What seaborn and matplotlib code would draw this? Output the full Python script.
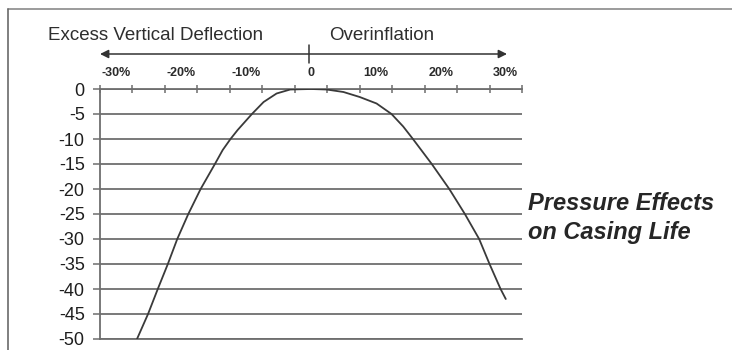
import matplotlib
matplotlib.use("Agg")
import matplotlib.pyplot as plt
from matplotlib.lines import Line2D
from matplotlib.patches import FancyArrowPatch
from matplotlib.ticker import FixedLocator
import seaborn as sns
import pandas as pd

# Casing life change (%) against inflation deviation (%)
deflection_pct = [-26.8, -25.1, -23.6, -22.05, -20.6, -18.9, -17.0, -14.8,
                  -13.6, -12.4, -11.3, -9.1, -7.3, -5.3, -3.2, 0.0,
                  2.4, 5.0, 7.5, 10.1, 12.4, 14.2, 15.7, 18.6,
                  21.3, 23.7, 25.9, 27.5, 29.2, 30.0]
casing_life = [-50, -45, -40, -35, -30, -25, -20, -15,
               -12.2, -10, -8.2, -5.0, -2.6, -0.9, -0.1, 0.0,
               -0.1, -0.6, -1.6, -2.9, -5.0, -7.5, -10, -15,
               -20, -25, -30, -35, -40, -42.0]

x_tick_values = [-30, -20, -10, 0, 10, 20, 30]
x_tick_labels = ["-30%", "-20%", "-10%", "0", "10%", "20%", "30%"]
y_tick_values = [0, -5, -10, -15, -20, -25, -30, -35, -40, -45, -50]

sns.set_style("white")
plt.rcParams["font.family"] = ["Liberation Sans", "DejaVu Sans"]

W, H = 732, 350
fig = plt.figure(figsize=(W / 100, H / 100), dpi=100)


def fx(px):
    return px / W


def fy(py):
    return 1 - py / H


ax = fig.add_axes([fx(100), fy(339), fx(522) - fx(100), fy(89) - fy(339)])

df = pd.DataFrame({"deflection": deflection_pct, "life": casing_life})
sns.lineplot(data=df, x="deflection", y="life", ax=ax, color="#3a3a3a",
             linewidth=1.3, zorder=3)

ax.set_xlim(-32.5, 32.5)
ax.set_ylim(-50, 0)
ax.set_xlabel("")
ax.set_ylabel("")

grid_col = "#6e6e6e"
ax.set_yticks(y_tick_values)
ax.set_yticklabels([str(v) for v in y_tick_values], fontsize=13, color="#1e1e1e")
ax.yaxis.grid(True, color=grid_col, linewidth=1.3)
ax.xaxis.grid(False)

ax.xaxis.tick_top()
ax.set_xticks(x_tick_values)
ax.set_xticklabels(x_tick_labels, fontsize=9, fontweight="bold", color="#2a2a2a")
ax.xaxis.set_minor_locator(FixedLocator([-32.5 + 5 * i for i in range(14)]))
ax.tick_params(axis="x", which="major", length=0, pad=7)
ax.tick_params(axis="x", which="minor", top=True, bottom=False, length=6,
               width=1.1, direction="inout", color=grid_col)
ax.tick_params(axis="y", which="major", left=True, length=5, width=1.1,
               direction="out", color=grid_col, pad=6)

for side in ["top", "left", "bottom"]:
    ax.spines[side].set_visible(True)
    ax.spines[side].set_color(grid_col)
    ax.spines[side].set_linewidth(1.3)
ax.spines["right"].set_visible(False)

# outer frame
fig.add_artist(Line2D([fx(8), 1.0], [fy(9), fy(9)], transform=fig.transFigure,
                      color="#8a8a8a", linewidth=1.2))
fig.add_artist(Line2D([fx(8), fx(8)], [fy(9), 0.0], transform=fig.transFigure,
                      color="#6a6a6a", linewidth=1.2))

# direction headers and double arrow
fig.text(fx(48), fy(35), "Excess Vertical Deflection", fontsize=13.5,
         color="#2e2e2e", ha="left", va="center")
fig.text(fx(329), fy(35), "Overinflation", fontsize=13.5,
         color="#2e2e2e", ha="left", va="center")
fig.add_artist(FancyArrowPatch((fx(100), fy(54)), (fx(507), fy(54)),
                               transform=fig.transFigure,
                               arrowstyle="<|-|>,head_length=5,head_width=2.5",
                               color="#333333", linewidth=1.1,
                               shrinkA=0, shrinkB=0))
fig.add_artist(Line2D([fx(309), fx(309)], [fy(45), fy(63)],
                      transform=fig.transFigure, color="#333333", linewidth=1.1))

# side caption
fig.text(fx(528), fy(203), "Pressure Effects", fontsize=17, fontstyle="italic",
         fontweight="bold", color="#262626", ha="left", va="center")
fig.text(fx(528), fy(232), "on Casing Life", fontsize=17, fontstyle="italic",
         fontweight="bold", color="#262626", ha="left", va="center")

fig.savefig("out.png", dpi=100)
